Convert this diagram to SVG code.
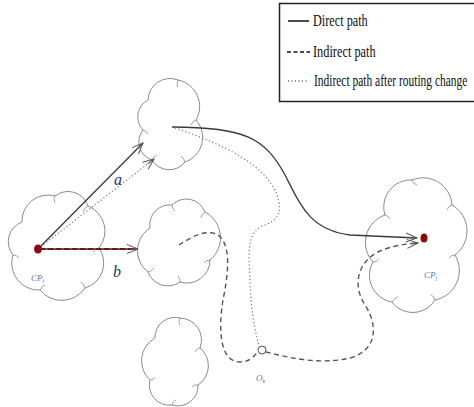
<svg xmlns="http://www.w3.org/2000/svg" width="474" height="407" viewBox="0 0 474 407">
<style>
.cloud{fill:none;stroke:#8a8a8a;stroke-width:1}
.tick{fill:none;stroke:#8a8a8a;stroke-width:0.8}
.solid{fill:none;stroke:#3a3a3a;stroke-width:1.3}
.dash{fill:none;stroke:#555;stroke-width:1.4;stroke-dasharray:5,3.5}
.dot{fill:none;stroke:#777;stroke-width:1.2;stroke-dasharray:1.2,2.4}
.leg{font-family:"Liberation Serif","Times New Roman",serif;font-size:16px;fill:#111}
.lab{font-family:"Liberation Serif","Times New Roman",serif;font-style:italic;fill:#1f3560}
.small{font-family:"Liberation Serif","Times New Roman",serif;font-style:italic;font-size:9px;fill:#5a78a8}
</style>
<defs>
<marker id="arr" markerUnits="userSpaceOnUse" markerWidth="14" markerHeight="12" refX="11" refY="6" orient="auto" overflow="visible">
<path d="M0,1.5 L11,6 L0,10.5 M3,6 L11,6" fill="none" stroke="#555" stroke-width="1"/>
</marker>
</defs>

<g id="legend">
<rect x="279.5" y="3.5" width="200" height="98" fill="#fff" stroke="#222" stroke-width="1.5"/>
<line x1="288" y1="21" x2="309" y2="21" stroke="#111" stroke-width="1.5"/>
<text class="leg" transform="translate(313,26) scale(0.72,1)" textLength="76" lengthAdjust="spacingAndGlyphs">Direct path</text>
<line x1="287" y1="52" x2="310" y2="52" stroke="#111" stroke-width="1.3" stroke-dasharray="4,2.5"/>
<text class="leg" transform="translate(313,57) scale(0.72,1)" textLength="87" lengthAdjust="spacingAndGlyphs">Indirect path</text>
<line x1="288" y1="81" x2="307" y2="81" stroke="#111" stroke-width="1.2" stroke-dasharray="1,2.5"/>
<text class="leg" transform="translate(314,86) scale(0.72,1)" textLength="213" lengthAdjust="spacingAndGlyphs">Indirect path after routing change</text>
</g>

<g id="cloud-cpi">
<path class="cloud" d="M22,222 A26,26 0 0 1 55,196 A21,21 0 0 1 88,206 A27,27 0 0 1 99,248 A26,26 0 0 1 85,288 A28,28 0 0 1 40,290 A27,27 0 0 1 13,255 A21,21 0 0 1 22,222 Z"/>
<path class="tick" d="M55,196 q-2,4 0,7 M88,206 q-4,2 -5,6 M99,248 q-4,1 -6,4 M85,288 q-1,-4 -4,-6 M40,290 q2,-4 5,-5 M13,255 q4,0 6,3"/>
</g>

<g id="cloud-top">
<path class="cloud" d="M148,100 A22,22 0 0 1 178,80 A27,27 0 0 1 196,120 A26,26 0 0 1 185,162 A20,20 0 0 1 152,160 A19,19 0 0 1 143,130 A19,19 0 0 1 148,100 Z"/>
<path class="tick" d="M178,80 q-2,4 0,7 M196,120 q-4,1 -5,5 M185,162 q-1,-4 -4,-6 M152,160 q2,-4 5,-5 M143,130 q4,1 5,4"/>
</g>

<g id="cloud-mid">
<path class="cloud" d="M150,228 A20,20 0 0 1 172,205 A20,20 0 0 1 205,212 A29,29 0 0 1 210,260 A23,23 0 0 1 180,282 A21,21 0 0 1 148,272 A27,27 0 0 1 150,228 Z"/>
<path class="tick" d="M172,205 q0,4 3,6 M205,212 q-4,2 -4,6 M210,260 q-4,0 -6,3 M180,282 q0,-4 -2,-6 M148,272 q4,-1 6,-4"/>
</g>

<g id="cloud-bottom">
<path class="cloud" d="M155,338 A20,20 0 0 1 180,318 A22,22 0 0 1 200,348 A23,23 0 0 1 198,385 A20,20 0 0 1 172,405 A20,20 0 0 1 150,380 A26,26 0 0 1 155,338 Z"/>
<path class="tick" d="M180,318 q-2,4 0,7 M200,348 q-4,1 -5,4 M198,385 q-4,-1 -6,2 M172,405 q1,-4 4,-5 M150,380 q4,0 5,-3"/>
</g>

<g id="cloud-cpj">
<path class="cloud" d="M385,215 A27,27 0 0 1 412,180 A29,29 0 0 1 452,205 A30,30 0 0 1 455,255 A30,30 0 0 1 435,300 A26,26 0 0 1 392,302 A27,27 0 0 1 373,262 A29,29 0 0 1 385,215 Z"/>
<path class="tick" d="M412,180 q1,4 5,5 M452,205 q-4,1 -5,5 M455,255 q-4,0 -6,3 M435,300 q-1,-4 -4,-5 M392,302 q2,-4 6,-5 M373,262 q4,0 6,-3 M385,215 q4,1 5,4"/>
</g>

<g id="connectors">
<line class="solid" x1="38" y1="249" x2="143" y2="143" marker-end="url(#arr)"/>
<line class="dot" x1="38" y1="249" x2="154" y2="159" marker-end="url(#arr)"/>
<line x1="40" y1="249" x2="138" y2="249" stroke="#c0302a" stroke-width="2.2"/>
<line x1="40" y1="249" x2="138" y2="249" stroke="#222" stroke-width="1.6" stroke-dasharray="5,3" marker-end="url(#arr)"/>
<path class="solid" d="M172,127 C245,127 265,138 285,175 C301,206 310,230 350,235 L417,238" marker-end="url(#arr)"/>
<path class="dot" d="M175,128 C225,145 266,165 277,195 C284,215 275,222 262,226 C250,232 249,245 249,260 L251,300 C253,320 256,335 259,346"/>
<path class="dash" d="M179,245 C190,238 205,228 218,235 C232,245 228,275 223,300 C218,330 220,362 240,362 C250,362 254,356 257,353"/>
<path class="dash" d="M266,352 C290,358 320,365 350,358 C378,350 378,325 365,305 C352,285 358,262 378,252 C390,246 405,244 418,243" marker-end="url(#arr)"/>
</g>

<g id="node-cpi">
<ellipse cx="38" cy="249" rx="4" ry="4.5" fill="#8b0a0a"/>
<text class="small" x="31" y="281">CP<tspan font-size="6" dy="2">i</tspan></text>
</g>
<g id="node-cpj">
<ellipse cx="424" cy="238" rx="3.5" ry="4.5" fill="#8b0a0a"/>
<text class="small" x="424" y="278">CP<tspan font-size="6" dy="2">j</tspan></text>
</g>
<g id="node-ok">
<circle cx="262" cy="350" r="4" fill="#fff" stroke="#555" stroke-width="1"/>
<text class="small" x="256" y="381">O<tspan font-size="6" dy="2">k</tspan></text>
</g>
<g id="labels">
<text class="lab" x="114" y="185" font-size="16">a</text>
<text class="lab" x="113" y="277" font-size="16">b</text>
</g>
</svg>
